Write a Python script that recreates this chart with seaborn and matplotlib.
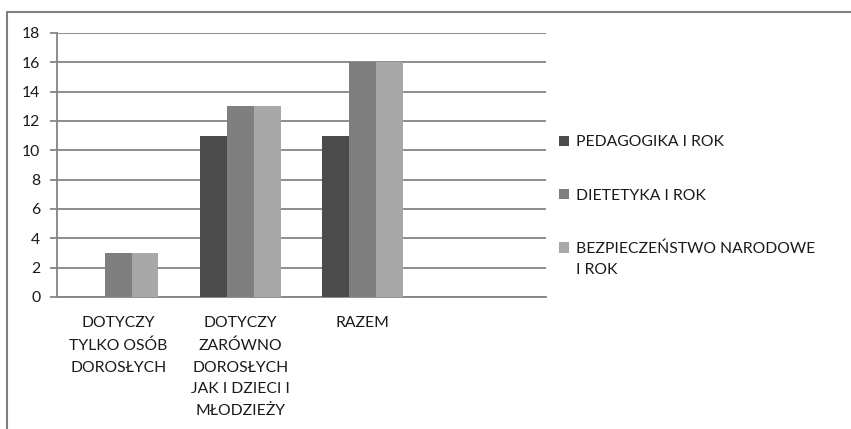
import matplotlib
matplotlib.use("Agg")
import matplotlib.pyplot as plt
from matplotlib.lines import Line2D
import seaborn as sns
import pandas as pd

categories = ["DOTYCZY\nTYLKO OSÓB\nDOROSŁYCH",
              "DOTYCZY\nZARÓWNO\nDOROSŁYCH\nJAK I DZIECI I\nMŁODZIEŻY",
              "RAZEM"]
series = ["PEDAGOGIKA I ROK", "DIETETYKA I ROK", "BEZPIECZEŃSTWO NARODOWE\nI ROK"]
pedagogika = [0, 11, 11]
dietetyka = [3, 13, 16]
bezpieczenstwo = [3, 13, 16]
yticks = [0, 2, 4, 6, 8, 10, 12, 14, 16, 18]
colors = ["#4b4b4b", "#7f7f7f", "#a8a8a8"]

rows = []
for s, vals in zip(series, [pedagogika, dietetyka, bezpieczenstwo]):
    for c, v in zip(categories, vals):
        rows.append({"category": c, "series": s, "value": v})
df = pd.DataFrame(rows)

sns.set_style("white")
plt.rcParams["font.family"] = ["Lato", "DejaVu Sans"]
text_color = "#1a1a1a"
grid_color = "#858585"
fs = 11.3

fig = plt.figure(figsize=(8.51, 4.29), dpi=100)
ax = fig.add_axes([57 / 851, 1 - 297 / 429, (546 - 57) / 851, (297 - 33) / 429])

sns.barplot(data=df, x="category", y="value", hue="series", order=categories,
            hue_order=series, palette=colors, saturation=1, width=0.66,
            edgecolor="none", linewidth=0, ax=ax, zorder=3)

ax.set_xlim(-0.5, 3.5)
ax.set_ylim(0, 18)
ax.set_yticks(yticks)
ax.set_xlabel("")
ax.set_ylabel("")

ax.grid(False)
for y in yticks:
    ax.axhline(y, color=grid_color, lw=1.3, zorder=1)

for side in ["top", "right"]:
    ax.spines[side].set_visible(False)
for side in ["left", "bottom"]:
    ax.spines[side].set_color(grid_color)
    ax.spines[side].set_linewidth(1.3)

ax.set_xticks(range(len(categories)))
ax.set_xticklabels(categories, fontsize=fs, color=text_color, linespacing=1.7,
                   va="top", ha="center")
ax.tick_params(axis="x", which="major", length=0, pad=14)
ax.set_xticks([-0.5, 0.5, 1.5, 2.5, 3.5], minor=True)
ax.tick_params(axis="x", which="minor", length=5, width=1.3, color=grid_color,
               direction="out")
ax.tick_params(axis="y", length=5, width=1.3, color=grid_color, pad=7,
               labelsize=fs, labelcolor=text_color, left=True)

handles, labels = ax.get_legend_handles_labels()
leg = ax.legend(handles, labels, loc="upper left", bbox_to_anchor=(1.014, 0.636),
                frameon=False, fontsize=fs, labelspacing=2.5, handlelength=0.65,
                handleheight=0.65, handletextpad=0.4, labelcolor=text_color,
                borderaxespad=0)
for t in leg.get_texts():
    t.set_linespacing(1.65)
# align the square of the two-line entry with its first line
p3 = leg.get_patches()[2]
p3.set_y(p3.get_y() + 8.7)

fig.add_artist(Line2D([7 / 851, 1], [1 - 12 / 429, 1 - 12 / 429],
                      transform=fig.transFigure, color="#7f7f7f", lw=1.5))
fig.add_artist(Line2D([7 / 851, 7 / 851], [0, 1 - 12 / 429],
                      transform=fig.transFigure, color="#7f7f7f", lw=1.5))

fig.savefig("out.png", dpi=100, facecolor="white")
